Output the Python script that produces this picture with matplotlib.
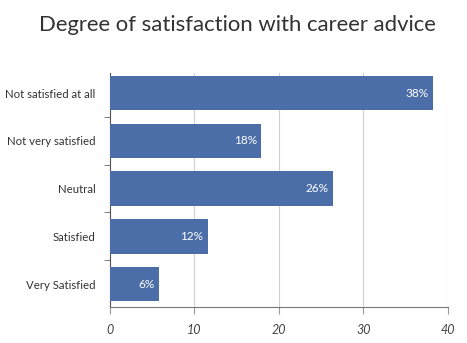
import matplotlib.pyplot as plt

categories = ["Not satisfied at all", "Not very satisfied", "Neutral", "Satisfied", "Very Satisfied"]
values = [38.2, 17.9, 26.4, 11.6, 5.8]
xticks = [0, 10, 20, 30, 40]

plt.rcParams['font.family'] = ['Lato', 'DejaVu Sans']

fig = plt.figure(figsize=(4.67, 3.43), dpi=100)
ax = fig.add_axes([0.2345, 0.105, 0.7245, 0.682])

pos = list(range(len(categories)))
bars = ax.barh(pos, values, height=0.72, color='#4b6ea8', zorder=3)

for b, v in zip(bars, values):
    ax.text(b.get_width() - 0.5, b.get_y() + b.get_height() / 2, "{:.0f}%".format(v),
            ha='right', va='center', color='white', fontsize=8.5, zorder=4)

ax.set_xlim(0, 40)
ax.set_ylim(4.48, -0.42)
ax.set_xticks(xticks)
ax.set_xticklabels([str(t) for t in xticks], fontstyle='italic', fontsize=9, color='#444444')
ax.set_yticks(pos)
ax.set_yticklabels(categories, fontsize=8.2, color='#333333')
ax.set_yticks([p + 0.5 for p in pos[:-1]], minor=True)
ax.tick_params(axis='y', which='major', length=0, pad=10)
ax.tick_params(axis='y', which='minor', length=4, color='#666666')
ax.tick_params(axis='x', length=5, color='#999999', pad=7)

ax.grid(axis='x', color='#d0d0d0', linewidth=0.8, zorder=0)
for s in ['top', 'right']:
    ax.spines[s].set_visible(False)
ax.spines['left'].set_color('#555555')
ax.spines['bottom'].set_color('#777777')
ax.spines['left'].set_linewidth(0.8)
ax.spines['bottom'].set_linewidth(0.8)

fig.suptitle("Degree of satisfaction with career advice", x=0.509, y=0.955,
             fontsize=15.9, color='#333333')

fig.savefig('out.png', dpi=100)
